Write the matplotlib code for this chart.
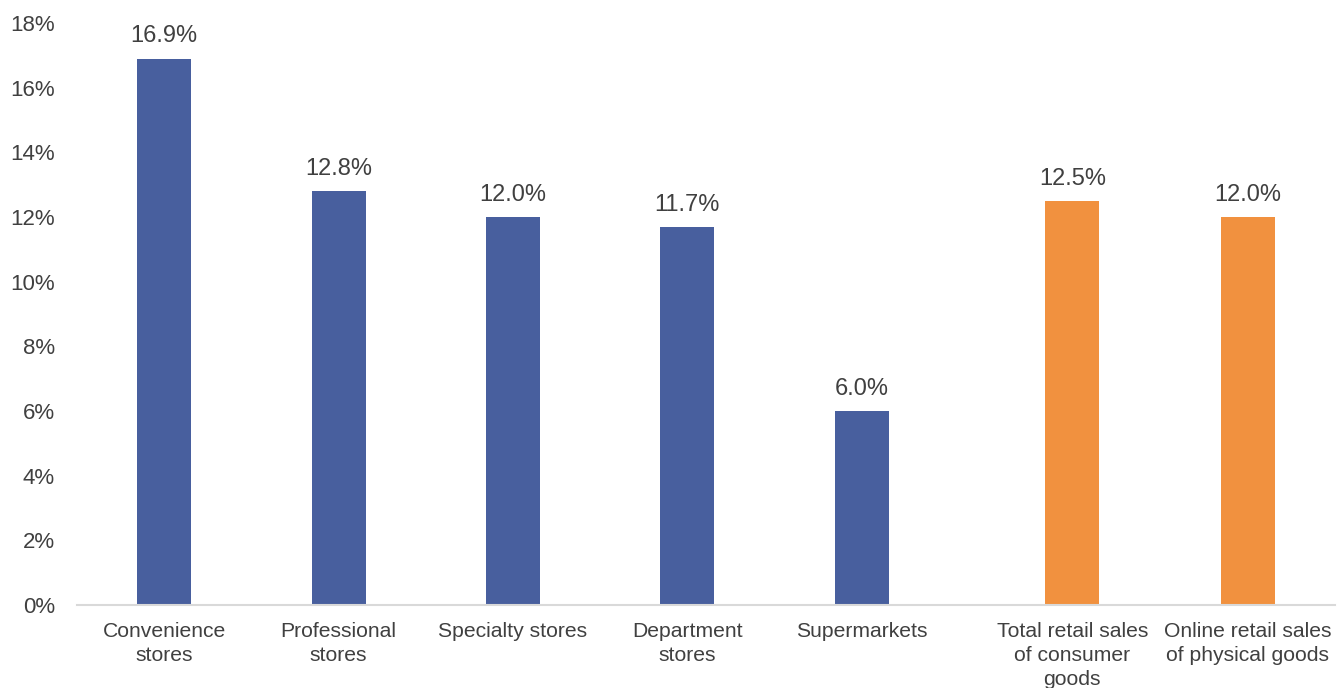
import matplotlib
matplotlib.use("Agg")
import matplotlib.pyplot as plt
from matplotlib.ticker import FuncFormatter

# growth by retail format (%)
CATEGORIES = [
    "Convenience\nstores",
    "Professional\nstores",
    "Specialty stores",
    "Department\nstores",
    "Supermarkets",
    "Total retail sales\nof consumer\ngoods",
    "Online retail sales\nof physical goods",
]
VALUES = [16.9, 12.8, 12.0, 11.7, 6.0, 12.5, 12.0]
POSITIONS = [0, 1, 2, 3, 4, 5.207, 6.213]
GROUPS = ["format", "format", "format", "format", "format", "total", "total"]

COLORS = {"format": "#485F9E", "total": "#F1913F"}
TEXT_COLOR = "#404040"

plt.rcParams['font.family'] = ['Liberation Sans', 'DejaVu Sans']

fig = plt.figure(figsize=(13.44, 6.88), dpi=100)
ax = fig.add_axes([0.0573, 0.1206, 0.936, 0.846])

bars = ax.bar(POSITIONS, VALUES, width=0.31,
              color=[COLORS[g] for g in GROUPS], zorder=2)

for b, v in zip(bars, VALUES):
    ax.annotate("{:.1f}%".format(v),
                xy=(b.get_x() + b.get_width() / 2, v),
                xytext=(0, 8), textcoords="offset points",
                ha="center", va="bottom", fontsize=17, color=TEXT_COLOR)

ax.set_xlim(-0.5, 6.713)
ax.set_ylim(0, 18)
ax.set_yticks(range(0, 19, 2))
ax.yaxis.set_major_formatter(FuncFormatter(lambda y, _: "{:.0f}%".format(y)))

ax.set_xticks(POSITIONS)
ax.set_xticklabels(CATEGORIES, fontsize=15.2, color=TEXT_COLOR,
                   linespacing=1.33, va="top")
ax.tick_params(axis="x", length=0, pad=12)
ax.tick_params(axis="y", length=0, pad=16, labelsize=16, labelcolor=TEXT_COLOR)

for s in ["top", "right", "left"]:
    ax.spines[s].set_visible(False)
ax.spines["bottom"].set_color("#D9D9D9")
ax.spines["bottom"].set_linewidth(1.5)

fig.savefig("out.png", dpi=100)
